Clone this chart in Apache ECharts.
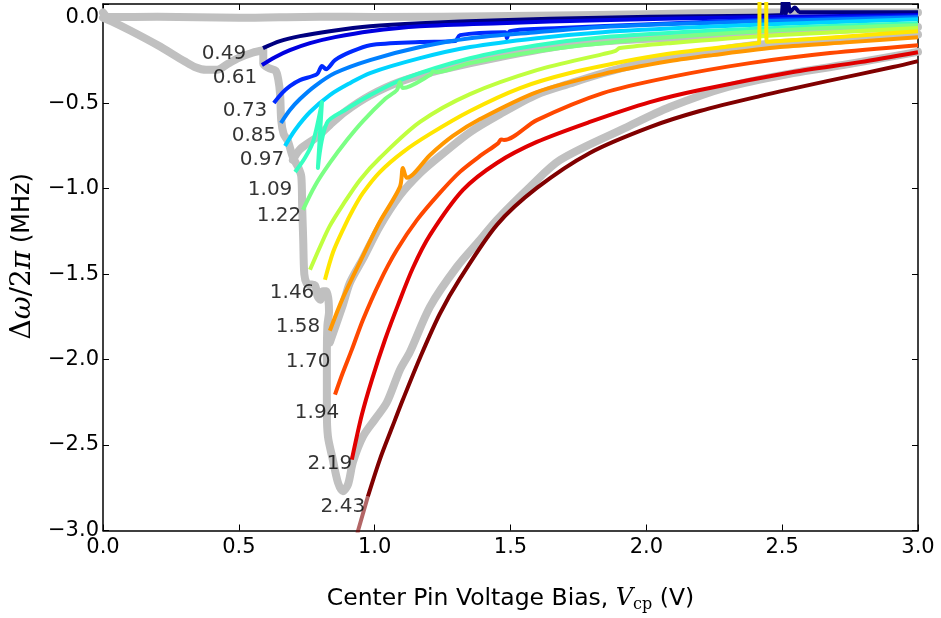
<!DOCTYPE html>
<html><head><meta charset="utf-8">
<script src="https://cdn.jsdelivr.net/npm/echarts@6/dist/echarts.min.js"></script>
<style>html,body{margin:0;padding:0;background:#fff}#c{width:941px;height:618px}</style>
</head><body><div id="c"></div>
<script>
// ---- data: [V_cp (V), delta omega / 2pi (MHz)] ----
const curve049 = [[0.589,-0.178],[0.651,-0.137],[0.725,-0.108],[0.835,-0.079],[0.983,-0.050],[1.167,-0.032],[1.461,-0.015],[1.829,0.0],[2.197,0.009],[2.495,0.015],[2.503,0.1],[2.512,0.02],[2.521,0.1],[2.53,0.035],[2.547,0.06],[2.565,0.032],[2.75,0.032],[3.0,0.032]];
const curve061 = [[0.585,-0.277],[0.633,-0.231],[0.688,-0.190],[0.762,-0.149],[0.854,-0.114],[0.983,-0.079],[1.167,-0.050],[1.461,-0.032],[1.829,-0.015],[2.381,0.003],[3.0,0.015]];
const curve073 = [[0.629,-0.499],[0.659,-0.441],[0.688,-0.400],[0.725,-0.365],[0.788,-0.330],[0.806,-0.283],[0.821,-0.301],[0.854,-0.248],[0.909,-0.202],[0.983,-0.161],[1.167,-0.143],[1.296,-0.137],[1.314,-0.102],[1.480,-0.085],[1.487,-0.120],[1.498,-0.079],[1.682,-0.061],[2.013,-0.038],[2.492,-0.009],[3.0,0.009]];
const curve085 = [[0.655,-0.616],[0.688,-0.540],[0.725,-0.476],[0.780,-0.400],[0.854,-0.324],[0.983,-0.248],[1.167,-0.172],[1.351,-0.120],[1.597,-0.085],[1.840,-0.055],[2.197,-0.032],[2.565,-0.015],[3.0,0.003]];
const curve097 = [[0.670,-0.751],[0.707,-0.657],[0.762,-0.552],[0.835,-0.453],[0.909,-0.383],[0.983,-0.324],[1.167,-0.237],[1.351,-0.172],[1.597,-0.120],[1.840,-0.085],[2.197,-0.055],[2.565,-0.032],[3.0,-0.009]];
const curve109 = [[0.707,-0.903],[0.743,-0.821],[0.773,-0.727],[0.806,-0.494],[0.791,-0.879],[0.824,-0.616],[0.891,-0.540],[0.983,-0.453],[1.104,-0.359],[1.351,-0.237],[1.597,-0.161],[1.840,-0.114],[2.197,-0.079],[2.565,-0.055],[3.0,-0.032]];
const curve122 = [[0.736,-1.124],[0.780,-0.984],[0.835,-0.850],[0.898,-0.716],[0.957,-0.605],[1.038,-0.476],[1.082,-0.423],[1.093,-0.377],[1.104,-0.412],[1.204,-0.336],[1.215,-0.313],[1.229,-0.318],[1.351,-0.266],[1.597,-0.196],[1.840,-0.149],[2.197,-0.102],[2.565,-0.067],[3.0,-0.044]];
const curve146 = [[0.762,-1.475],[0.799,-1.340],[0.835,-1.218],[0.883,-1.095],[0.946,-0.949],[1.019,-0.821],[1.167,-0.610],[1.351,-0.447],[1.597,-0.307],[1.840,-0.213],[1.884,-0.196],[1.903,-0.178],[2.087,-0.149],[2.492,-0.102],[3.0,-0.061]];
const curve158 = [[0.817,-1.533],[0.847,-1.371],[0.883,-1.241],[0.920,-1.124],[0.957,-1.025],[1.019,-0.903],[1.104,-0.786],[1.204,-0.680],[1.351,-0.546],[1.535,-0.412],[1.719,-0.324],[1.965,-0.242],[2.124,-0.202],[2.407,-0.149],[2.415,-0.147],[2.418,0.2],[2.44,0.2],[2.443,-0.141],[2.492,-0.137],[2.749,-0.108],[3.0,-0.079]];
const curve170 = [[0.835,-1.831],[0.883,-1.639],[0.957,-1.393],[1.019,-1.194],[1.093,-0.990],[1.104,-0.879],[1.119,-0.937],[1.204,-0.803],[1.288,-0.692],[1.388,-0.593],[1.597,-0.435],[1.840,-0.330],[2.087,-0.254],[2.245,-0.219],[2.492,-0.172],[2.749,-0.143],[3.0,-0.114]];
const curve194 = [[0.854,-2.205],[0.883,-2.076],[0.916,-1.942],[0.957,-1.767],[1.019,-1.545],[1.082,-1.358],[1.156,-1.183],[1.240,-1.025],[1.314,-0.902],[1.388,-0.809],[1.454,-0.735],[1.465,-0.712],[1.476,-0.716],[1.597,-0.599],[1.840,-0.441],[2.087,-0.348],[2.381,-0.266],[2.676,-0.207],[3.0,-0.161]];
const curve219 = [[0.916,-2.585],[0.953,-2.322],[0.990,-2.117],[1.038,-1.884],[1.086,-1.680],[1.141,-1.463],[1.204,-1.271],[1.325,-1.008],[1.450,-0.850],[1.597,-0.727],[1.792,-0.610],[2.013,-0.494],[2.197,-0.423],[2.540,-0.318],[2.786,-0.260],[3.0,-0.202]];
const curve243 = [[0.925,-3.1],[0.939,-3.0],[0.975,-2.801],[1.019,-2.585],[1.064,-2.398],[1.104,-2.234],[1.167,-1.989],[1.240,-1.732],[1.314,-1.527],[1.450,-1.212],[1.597,-0.996],[1.792,-0.791],[2.013,-0.640],[2.197,-0.546],[2.418,-0.459],[2.665,-0.371],[2.908,-0.289],[3.0,-0.254]];

const grayTop = [[0.0,0.03],[0.02,0.004],[0.2,0.005],[0.5,0.0],[0.8,0.006],[1.0,0.004],[1.5,0.01],[2.0,0.02],[2.4,0.03],[3.0,0.03]];
const grayEnvelope = [[0.0,0.0],[0.03,-0.02],[0.1,-0.075],[0.2,-0.16],[0.3,-0.255],[0.34,-0.29],[0.38,-0.305],[0.42,-0.305],[0.46,-0.27],[0.5,-0.235],[0.55,-0.205],[0.59,-0.19],[0.59,-0.27],[0.61,-0.295],[0.635,-0.31],[0.645,-0.36],[0.652,-0.45],[0.656,-0.6],[0.665,-0.68],[0.68,-0.72],[0.7,-0.82],[0.72,-0.88],[0.73,-0.93],[0.733,-1.1],[0.737,-1.3],[0.741,-1.5],[0.75,-1.555],[0.762,-1.56],[0.78,-1.565],[0.79,-1.63],[0.8,-1.65],[0.81,-1.6],[0.823,-1.6],[0.832,-1.72],[0.826,-1.8],[0.824,-2.0],[0.824,-2.3],[0.828,-2.45],[0.846,-2.585],[0.865,-2.72],[0.883,-2.77],[0.902,-2.73],[0.92,-2.6],[0.957,-2.45],[1.001,-2.35],[1.045,-2.25],[1.093,-2.06],[1.13,-1.955],[1.204,-1.69],[1.303,-1.457],[1.388,-1.3],[1.45,-1.183],[1.572,-0.99],[1.683,-0.832],[1.929,-0.64],[2.087,-0.523],[2.297,-0.406],[2.54,-0.324],[2.724,-0.277],[3.0,-0.2]];
const grayOrange = [[0.835,-1.9],[0.883,-1.68],[0.909,-1.55],[0.957,-1.41],[1.019,-1.22],[1.093,-1.04],[1.167,-0.91],[1.24,-0.81],[1.351,-0.67],[1.461,-0.565],[1.597,-0.45],[1.719,-0.385],[1.84,-0.325],[2.013,-0.255],[2.245,-0.195],[2.407,-0.158],[2.75,-0.125],[3.0,-0.098]];
const grayAqua = [[0.699,-0.833],[0.725,-0.77],[0.788,-0.698],[0.835,-0.628],[0.891,-0.55],[0.983,-0.455],[1.093,-0.375],[1.24,-0.307],[1.461,-0.23],[1.756,-0.15],[2.124,-0.114],[2.565,-0.079],[3.0,-0.055]];

const powerLabels = ['0.49','0.61','0.73','0.85','0.97','1.09','1.22','1.46','1.58','1.70','1.94','2.19','2.43'];
const labelV   = [0.445,0.486,0.523,0.556,0.585,0.615,0.648,0.696,0.718,0.755,0.788,0.835,0.883];
const labelVal = [-0.213,-0.354,-0.546,-0.692,-0.832,-1.008,-1.159,-1.609,-1.808,-2.012,-2.31,-2.608,-2.86];

const xTicks = {min:0, max:3, interval:0.5};
const yTicks = {min:-3, max:0.08, interval:0.5};

// ---- drawing ----
const curves = [curve049,curve061,curve073,curve085,curve097,curve109,curve122,curve146,curve158,curve170,curve194,curve219,curve243];
const jetColors = ['#000080','#0000e0','#002aff','#0080ff','#00d4ff','#37ffc0','#7bff84','#c0ff3f','#ffe600','#ff9700','#ff4800','#e00000','#800000'];
const grays = [grayTop, grayEnvelope, grayOrange, grayAqua];

const frame = {show:true, onZero:false, lineStyle:{color:'#000', width:1.5}};
const tick = {show:true, inside:true, length:6, lineStyle:{color:'#000', width:1}};
const fmtY = v => Math.abs(v*2-Math.round(v*2))>1e-6 ? '' : (v<0?'\u2212':'')+Math.abs(v).toFixed(1);

const series = [];
grays.forEach(g => series.push({type:'line', data:g, showSymbol:false, smooth:0.3, silent:true,
  lineStyle:{color:'#c0c0c0', width:8, cap:'round', join:'round'}, z:1}));
curves.forEach((c,i) => {
  const last = i === curves.length-1;
  series.push({type:'line', data: last ? c.slice(2) : c, showSymbol:false, smooth:0.3,
    lineStyle:{color:jetColors[i], width:4, join:'round'}, z:2+i});
  if (last) series.push({type:'line', data:c.slice(0,3), showSymbol:false,
    lineStyle:{color:jetColors[i], opacity:0.6, width:4}, z:2+i});
});
series.push({type:'scatter', z:30, symbol:'circle', symbolSize:0, itemStyle:{color:'#000'},
  data: powerLabels.map((t,i)=>[labelV[i], labelVal[i], t]),
  label:{show:true, position:[0,0], align:'center', verticalAlign:'middle', formatter:p=>p.data[2],
         color:'#000', textBorderWidth:0, fontSize:20, fontFamily:'DejaVu Sans'}});

const chart = echarts.init(document.getElementById('c'), null, {renderer:'canvas'});
chart.setOption({
  animation:false,
  grid:{left:103, right:23, top:4, bottom:87},
  xAxis:[
    {type:'value', ...xTicks, position:'bottom', axisLine:frame, axisTick:tick, splitLine:{show:false},
     axisLabel:{color:'#000', fontSize:21, fontFamily:'DejaVu Sans', margin:7, formatter:v=>v.toFixed(1)},
     name:'{t|Center Pin Voltage Bias, }{i|V}{s|cp}{t| (V)}', nameLocation:'middle', nameGap:53,
     nameTextStyle:{rich:{
       t:{fontFamily:'DejaVu Sans', fontSize:23.5, color:'#000', lineHeight:30},
       i:{fontFamily:'DejaVu Serif', fontStyle:'italic', fontSize:24, color:'#000', lineHeight:30},
       s:{fontFamily:'DejaVu Serif', fontSize:16, color:'#000', lineHeight:16, padding:[13,0,0,0]}}}},
    {type:'value', ...xTicks, position:'top', axisLine:frame, axisTick:tick, axisLabel:{show:false}, splitLine:{show:false}}
  ],
  yAxis:[
    {type:'value', ...yTicks, position:'left', axisLine:frame, axisTick:tick, splitLine:{show:false},
     axisLabel:{color:'#000', fontSize:21, fontFamily:'DejaVu Sans', margin:4, formatter:fmtY},
     name:'{p|}{u|\u0394}{i|\u03c9}{u|/2}{i|\u03c0}{t| (MHz)}', nameLocation:'middle', nameGap:63, nameRotate:90,
     nameTextStyle:{rich:{
       p:{width:22, fontSize:24},
       t:{fontFamily:'DejaVu Sans', fontSize:24, color:'#000'},
       u:{fontFamily:'DejaVu Serif', fontSize:28, color:'#000'},
       i:{fontFamily:'DejaVu Serif', fontStyle:'italic', fontSize:28, color:'#000'}}}},
    {type:'value', ...yTicks, position:'right', axisLine:frame, axisTick:tick, axisLabel:{show:false}, splitLine:{show:false}}
  ],
  series: series
});
</script></body></html>
